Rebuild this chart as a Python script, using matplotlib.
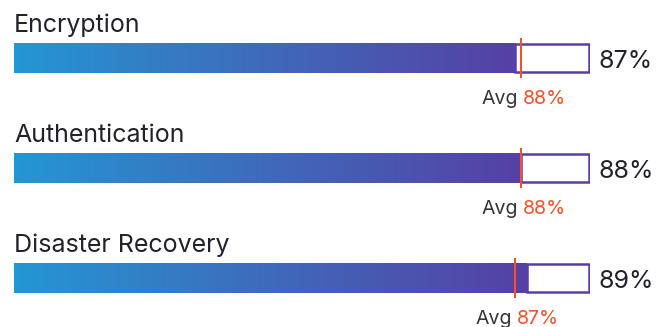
import numpy as np
import matplotlib.pyplot as plt
from matplotlib.colors import LinearSegmentedColormap
from matplotlib.patches import Rectangle

categories = ["Encryption", "Authentication", "Disaster Recovery"]
scores = [87, 88, 89]
averages = [88, 88, 87]

plt.rcParams['font.family'] = ['Inter', 'DejaVu Sans']

grad = LinearSegmentedColormap.from_list("bar", ["#2497d3", "#3f6abb", "#5640a6"])
edge = "#5a3ea8"
red = "#f4502a"
txt = "#222228"

# dpi 72 so that one point == one pixel
fig = plt.figure(figsize=(670 / 72, 327 / 72), dpi=72)
ax = fig.add_axes([14 / 670, 0, 576 / 670, 1])
ax.set_xlim(0, 100)
ax.set_ylim(269 / 110, -58 / 110)
ax.axis("off")

h = 30 / 110
for i, (name, val, avg) in enumerate(zip(categories, scores, averages)):
    top, bot = i - h / 2, i + h / 2
    # empty remainder of the track
    ax.add_patch(Rectangle((val, top + 1 / 110), 100 - val - 0.15, h - 2 / 110,
                           facecolor="white", edgecolor=edge, lw=2.5, zorder=1))
    # gradient fill
    ax.imshow(np.linspace(0, 1, 256)[None, :], cmap=grad, aspect="auto",
              extent=[0, val, bot, top], zorder=2, interpolation="bilinear")
    # average marker
    ax.plot([avg, avg], [top - 5 / 110, bot + 5 / 110], color=red, lw=2, zorder=3,
            solid_capstyle="butt")

    ax.annotate(name, (0, top), xytext=(0, 11), textcoords="offset points",
                ha="left", va="baseline", fontsize=25, color=txt)
    ax.annotate(f"{val}%", (100, i), xytext=(8, -10), textcoords="offset points",
                ha="left", va="baseline", fontsize=25, color=txt, annotation_clip=False)
    ax.annotate("Avg", (avg, bot), xytext=(-3, -31), textcoords="offset points",
                ha="right", va="baseline", fontsize=19.5, color="#333338")
    ax.annotate(f"{avg}%", (avg, bot), xytext=(2, -31), textcoords="offset points",
                ha="left", va="baseline", fontsize=19.5, color=red)

fig.savefig("out.png", dpi=72)
